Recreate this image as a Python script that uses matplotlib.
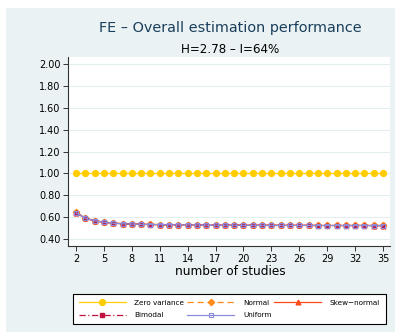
import matplotlib
matplotlib.use("Agg")
import matplotlib.pyplot as plt
from matplotlib.patches import Rectangle

# number of studies in each simulated meta-analysis
n_studies = list(range(2, 36))

# estimation performance by distribution of the random effects
zero_variance = [1.00] * 34
normal = [0.643, 0.592, 0.568, 0.555, 0.546, 0.541, 0.538, 0.535, 0.533, 0.532,
          0.531, 0.530, 0.529, 0.529, 0.528, 0.528, 0.527, 0.527, 0.527, 0.526,
          0.526, 0.526, 0.526, 0.525, 0.525, 0.525, 0.525, 0.525, 0.524, 0.524,
          0.524, 0.524, 0.524, 0.524]
skew_normal = [0.642, 0.591, 0.567, 0.554, 0.545, 0.540, 0.537, 0.535, 0.533, 0.532,
               0.531, 0.530, 0.529, 0.528, 0.528, 0.527, 0.527, 0.527, 0.526, 0.526,
               0.526, 0.525, 0.525, 0.525, 0.525, 0.525, 0.524, 0.524, 0.524, 0.524,
               0.524, 0.524, 0.523, 0.523]
bimodal = [0.640, 0.590, 0.566, 0.553, 0.544, 0.539, 0.536, 0.534, 0.532, 0.531,
           0.530, 0.529, 0.528, 0.527, 0.527, 0.526, 0.526, 0.526, 0.525, 0.525,
           0.525, 0.524, 0.524, 0.524, 0.524, 0.524, 0.523, 0.523, 0.523, 0.523,
           0.523, 0.523, 0.522, 0.522]
uniform = [0.640, 0.590, 0.566, 0.553, 0.544, 0.539, 0.536, 0.534, 0.532, 0.531,
           0.530, 0.529, 0.528, 0.527, 0.527, 0.526, 0.526, 0.526, 0.525, 0.525,
           0.525, 0.524, 0.524, 0.524, 0.524, 0.524, 0.523, 0.523, 0.523, 0.523,
           0.523, 0.523, 0.522, 0.522]

x_ticks = list(range(2, 36, 3))
y_ticks = [0.40, 0.60, 0.80, 1.00, 1.20, 1.40, 1.60, 1.80, 2.00]

panel_bg = "#eaf2f3"
grid_col = "#e4eef0"

fig = plt.figure(figsize=(3.95, 3.32), dpi=100, facecolor="white")
fig.patches.append(Rectangle((6 / 395, 0), 1 - 6 / 395, 1 - 8 / 332,
                             transform=fig.transFigure, facecolor=panel_bg,
                             edgecolor="none", zorder=-10))

ax = fig.add_axes([68 / 395, 86 / 332, 322 / 395, 189 / 332])
ax.set_facecolor("white")

h_zero, = ax.plot(n_studies, zero_variance, color="#ffcc00", lw=0.9, marker="o",
                  ms=4.2, label="Zero variance", zorder=3)
h_norm, = ax.plot(n_studies, normal, color="#ff8c1a", lw=0.9, ls=(0, (5, 3)),
                  marker="D", ms=3.2, label="Normal", zorder=3)
h_skew, = ax.plot(n_studies, skew_normal, color="#ff4a1a", lw=0.9, marker="^",
                  ms=3.4, label="Skew\u2212normal", zorder=3)
h_bim, = ax.plot(n_studies, bimodal, color="#c0143c", lw=0.9, ls=(0, (5, 2, 1, 2)),
                 marker="s", ms=3.0, label="Bimodal", zorder=4)
h_uni, = ax.plot(n_studies, uniform, color="#8c8cdc", lw=0.9, marker="s", ms=3.0,
                 mfc="none", mew=0.8, label="Uniform", zorder=5)

ax.set_xlim(1.14, 35.75)
ax.set_ylim(0.336, 2.064)
ax.set_xticks(x_ticks)
ax.set_yticks(y_ticks)
ax.set_yticklabels([f"{v:.2f}" for v in y_ticks])
ax.tick_params(axis="both", labelsize=7, length=3.5, width=0.7, color="#333333",
               pad=2)
ax.yaxis.grid(True, color=grid_col, lw=0.8)
ax.set_axisbelow(True)
for side in ("top", "right"):
    ax.spines[side].set_visible(False)
for side in ("left", "bottom"):
    ax.spines[side].set_color("#333333")
    ax.spines[side].set_linewidth(0.8)

fig.text(0.582, 0.916, "FE \u2013 Overall estimation performance", ha="center",
         va="center", fontsize=10.4, color="#1a3f5c")
fig.text(0.582, 0.852, "H=2.78 \u2013 I=64%", ha="center", va="center",
         fontsize=8.6, color="black")
fig.text(0.582, 0.182, "number of studies", ha="center", va="center",
         fontsize=8.7, color="black")

# legend entries laid out row by row: three per row
handles = [h_zero, h_bim, h_norm, h_uni, h_skew]
leg = fig.legend(handles=handles, labels=[h.get_label() for h in handles],
                 loc="lower left",
                 bbox_to_anchor=(73 / 395, 8 / 332, 313 / 395, 38 / 332),
                 mode="expand", ncol=3, fontsize=5.2, frameon=True, fancybox=False,
                 edgecolor="black", facecolor="white", framealpha=1,
                 handlelength=6.5, handletextpad=1.2, borderaxespad=0,
                 labelspacing=0.9, columnspacing=1.0, borderpad=0.8)
leg.get_frame().set_linewidth(0.8)

fig.savefig("out.png", dpi=100, facecolor=fig.get_facecolor())
